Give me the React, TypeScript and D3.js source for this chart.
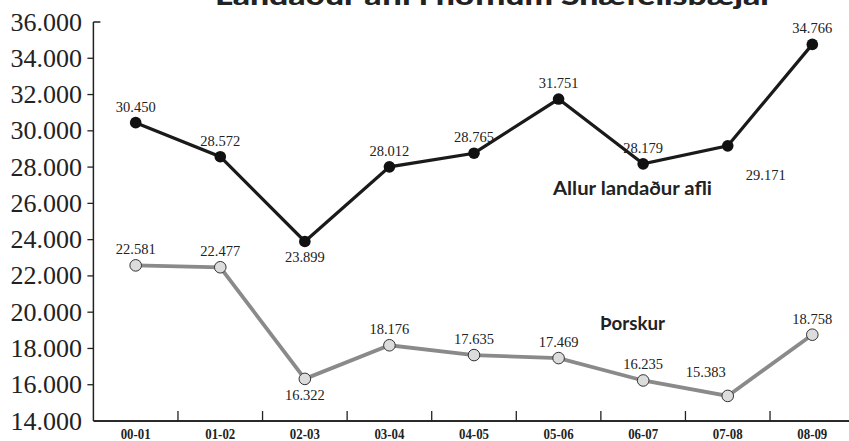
import { useEffect } from 'react';
import * as d3 from 'd3';

const seasons = ['00-01', '01-02', '02-03', '03-04', '04-05', '05-06', '06-07', '07-08', '08-09'];
const totalCatch = [30450, 28572, 23899, 28012, 28765, 31751, 28179, 29171, 34766];
const cod = [22581, 22477, 16322, 18176, 17635, 17469, 16235, 15383, 18758];
const yTicks = [14000, 16000, 18000, 20000, 22000, 24000, 26000, 28000, 30000, 32000, 34000, 36000];

// where each value label sits relative to its point: 'a' above, 'b' below, or custom
const totalLabelPos = ['a', 'a', 'b', 'a', 'a', 'a', 'a', 'r', 'a'];
const codLabelPos = ['a', 'a', 'b', 'a', 'a', 'a', 'a', 'l', 'a'];

const W = 849;
const H = 441;

const fmt = (v: number) => d3.format(',')(v).replace(/,/g, '.');

function labelOffset(pos: string): [number, number] {
  if (pos === 'b') return [0, 21];
  if (pos === 'r') return [38, 34];
  if (pos === 'l') return [-22, -19];
  return [0, -11];
}

export default function App() {
  useEffect(() => {
    document.body.style.margin = '0';
  }, []);

  const x0 = 93.4;
  const x1 = 854.6;
  const yTop = 22;
  const yBottom = 421;

  const band = d3.scaleBand<string>().domain(seasons).range([x0, x1]);
  const x = (s: string) => (band(s) ?? 0) + band.bandwidth() / 2;
  const y = d3.scaleLinear().domain([14000, 36000]).range([yBottom, yTop]);

  const line = d3
    .line<number>()
    .x((_, i) => x(seasons[i]))
    .y((d) => y(d));

  const serif = '"Liberation Serif", "Times New Roman", serif';
  const sans = 'Lato, "Open Sans", sans-serif';

  return (
    <svg width={W} height={H} style={{ display: 'block', background: '#fff' }}>
      {/* title, cropped at the top edge as in the source */}
      <text
        x={215}
        y={5}
        fontFamily={sans}
        fontWeight={900}
        fontSize={27}
        fill="#222"
        textLength={558}
        lengthAdjust="spacingAndGlyphs"
      >
        Landaður afli í höfnum Snæfellsbæjar
      </text>

      {/* y axis */}
      <line x1={x0} x2={x0} y1={yTop} y2={yBottom} stroke="#222" strokeWidth={1.5} />
      <line x1={x0} x2={x0 + 7} y1={yTop} y2={yTop} stroke="#222" strokeWidth={1.5} />
      {yTicks.map((t) => (
        <g key={t}>
          {t !== 36000 && t !== 14000 && (
            <line x1={x0 - 6} x2={x0} y1={y(t)} y2={y(t)} stroke="#222" strokeWidth={1.3} />
          )}
          <text
            x={82}
            y={y(t)}
            dy="0.33em"
            textAnchor="end"
            fontFamily={serif}
            fontSize={26}
            fill="#222"
          >
            {fmt(t)}
          </text>
        </g>
      ))}

      {/* x axis */}
      <line x1={x0} x2={W} y1={yBottom} y2={yBottom} stroke="#2a2a2a" strokeWidth={2.2} />
      {seasons.slice(1).map((s) => (
        <line
          key={s}
          x1={band(s)}
          x2={band(s)}
          y1={yBottom}
          y2={yBottom - 10}
          stroke="#222"
          strokeWidth={1.3}
        />
      ))}
      {seasons.map((s) => (
        <text
          key={s}
          x={x(s)}
          y={439}
          textAnchor="middle"
          fontFamily={serif}
          fontWeight="bold"
          fontSize={14}
          fill="#222"
          textLength={30}
          lengthAdjust="spacingAndGlyphs"
        >
          {s}
        </text>
      ))}

      {/* cod series */}
      <path d={line(cod) ?? ''} fill="none" stroke="#8a8a8a" strokeWidth={3.8} />
      {cod.map((v, i) => {
        const [dx, dy] = labelOffset(codLabelPos[i]);
        return (
          <g key={i}>
            <circle cx={x(seasons[i])} cy={y(v)} r={5.8} fill="#dcdcdc" stroke="#333" strokeWidth={1} />
            <text
              x={x(seasons[i]) + dx}
              y={y(v) + dy}
              textAnchor="middle"
              fontFamily={serif}
              fontSize={14.5}
              fill="#222"
            >
              {fmt(v)}
            </text>
          </g>
        );
      })}

      {/* total catch series */}
      <path d={line(totalCatch) ?? ''} fill="none" stroke="#1a1a1a" strokeWidth={3.2} />
      {totalCatch.map((v, i) => {
        const [dx, dy] = labelOffset(totalLabelPos[i]);
        return (
          <g key={i}>
            <circle cx={x(seasons[i])} cy={y(v)} r={5.8} fill="#111" />
            <text
              x={x(seasons[i]) + dx}
              y={y(v) + dy}
              textAnchor="middle"
              fontFamily={serif}
              fontSize={14.5}
              fill="#222"
            >
              {fmt(v)}
            </text>
          </g>
        );
      })}

      {/* series names */}
      <text
        x={553}
        y={195}
        fontFamily={sans}
        fontWeight="bold"
        fontSize={18.5}
        fill="#222"
        textLength={159}
        lengthAdjust="spacingAndGlyphs"
      >
        Allur landaður afli
      </text>
      <text
        x={600}
        y={330}
        fontFamily={sans}
        fontWeight="bold"
        fontSize={18.5}
        fill="#222"
        textLength={65}
        lengthAdjust="spacingAndGlyphs"
      >
        Þorskur
      </text>
    </svg>
  );
}
